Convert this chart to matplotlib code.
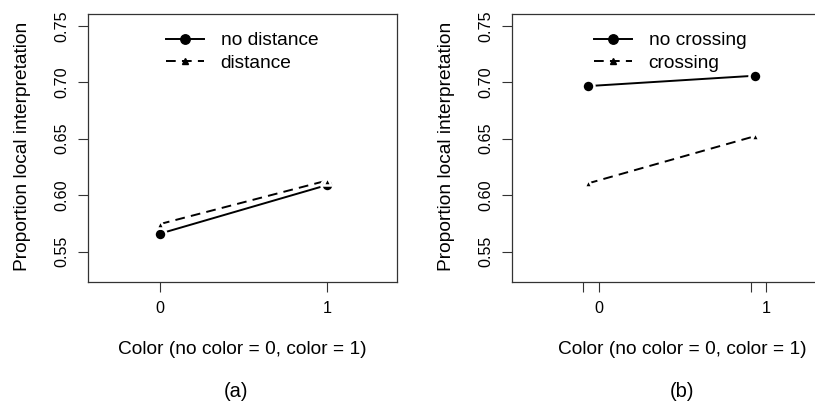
import matplotlib
matplotlib.use("Agg")
import matplotlib.pyplot as plt

plt.rcParams['font.family'] = ['Liberation Sans', 'DejaVu Sans']

# panel (a): distance
x_a = [0, 1]
no_distance = [0.566, 0.609]
distance = [0.5745, 0.613]

# panel (b): crossing (points drawn slightly left of the labelled ticks)
x_b = [-0.066, 0.934]
no_crossing = [0.6966, 0.7058]
crossing = [0.6105, 0.6524]

yticks = [0.55, 0.60, 0.65, 0.70, 0.75]
ytick_labels = ['0.55', '0.60', '0.65', '0.70', '0.75']
xticks = [0, 1]
xtick_labels = ['0', '1']
extra_ticks_b = [-0.094, 0.909]

W, H = 815, 403
fig = plt.figure(figsize=(W / 100, H / 100), dpi=100)


def px_axes(left, right, top, bottom):
    return fig.add_axes([left / W, 1 - bottom / H, (right - left) / W, (bottom - top) / H])


ax_a = px_axes(88, 397, 14, 282)
ax_b = px_axes(511.7, 853, 14, 282)

TICK = 11.6
LAB = 13.8


def draw(ax, x, y1, y2, names, xlim, ylab_x, leg_left):
    ax.plot(x, y1, color='black', lw=1.4, ls='-', marker='o', ms=6.8, label=names[0])
    ax.plot(x, y2, color='black', lw=1.4, ls=(0, (5, 3.2)), marker='^', ms=4.2, label=names[1])
    # white halo around points, like R's type="b"
    ax.plot(x, y1, ls='none', marker='o', ms=8.6, mfc='black', mec='white', mew=1.8)
    ax.plot(x, y2, ls='none', marker='^', ms=6.0, mfc='black', mec='white', mew=1.8)

    ax.set_xlim(*xlim)
    ax.set_ylim(0.5232, 0.7604)
    ax.set_xticks(xticks, xtick_labels)
    ax.set_yticks(yticks, ytick_labels)
    ax.tick_params(length=7, width=0.8, color='#333333', labelsize=TICK)
    ax.tick_params(axis='x', pad=7)
    ax.tick_params(axis='y', pad=6.5, labelrotation=90)
    for lab in ax.get_yticklabels():
        lab.set_va('center')
    for s in ax.spines.values():
        s.set_color('#333333')
        s.set_linewidth(0.9)

    ax.set_xlabel('Color (no color = 0, color = 1)', fontsize=LAB)
    ax.xaxis.label.set_va('center')
    ax.xaxis.set_label_coords(0.5, (282 - 349.3) / 268)
    ax.set_ylabel('Proportion local interpretation', fontsize=LAB)
    ax.yaxis.label.set_va('center')
    ax.yaxis.set_label_coords(ylab_x, 0.5 + (148 - 146.5) / 268)

    ax.legend(loc='upper left', bbox_to_anchor=(leg_left / W, 1 - 32 / H),
              bbox_transform=fig.transFigure, frameon=False, fontsize=LAB,
              handlelength=2.0, handletextpad=0.85, borderpad=0, borderaxespad=0,
              labelspacing=0.25)


draw(ax_a, x_a, no_distance, distance, ['no distance', 'distance'],
     (-0.431, 1.419), (22 - 88) / 309, 166)
draw(ax_b, x_b, no_crossing, crossing, ['no crossing', 'crossing'],
     (-0.522, 1.517), (446.7 - 511.7) / 341.3, 594)

ax_b.set_xticks(extra_ticks_b, minor=True)
ax_b.tick_params(which='minor', length=7, width=0.8, color='#333333')

fig.text(236 / W, 1 - 391.7 / H, '(a)', fontsize=14.5, ha='center', va='center')
fig.text(681.7 / W, 1 - 391.7 / H, '(b)', fontsize=14.5, ha='center', va='center')

fig.savefig('out.png', dpi=100)
